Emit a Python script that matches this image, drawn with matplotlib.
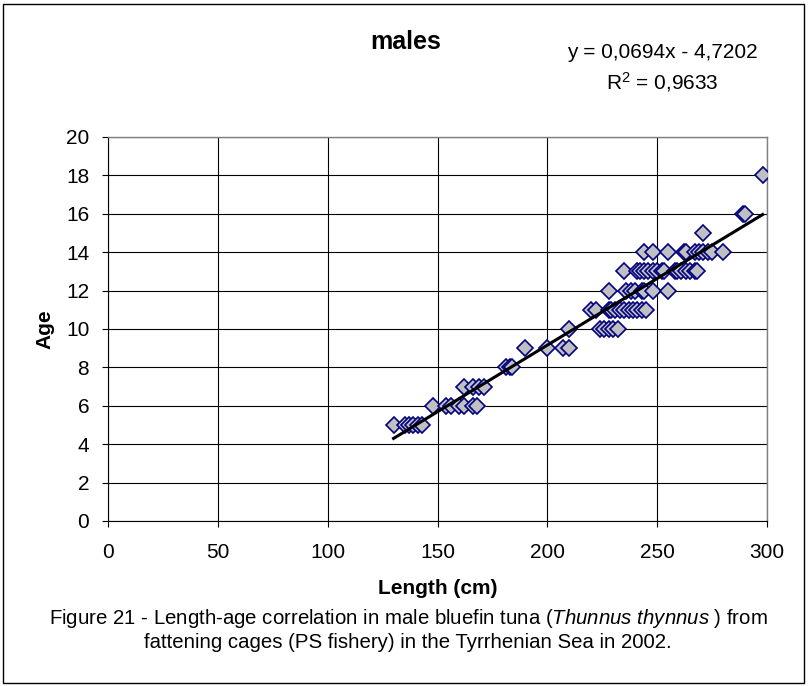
import matplotlib.pyplot as plt
from matplotlib.patches import Rectangle
import numpy as np

plt.rcParams['font.family'] = ['Liberation Sans', 'DejaVu Sans']
plt.rcParams['mathtext.fontset'] = 'custom'
plt.rcParams['mathtext.rm'] = 'Liberation Sans'
plt.rcParams['mathtext.it'] = 'Liberation Sans:italic'

# length (cm) of each fish, grouped by age read
len_age5 = [130, 135, 137, 139, 141, 143]
len_age6 = [148, 154, 156, 160, 162, 166, 168]
len_age7 = [162, 166, 169, 171]
len_age8 = [181, 183, 184]
len_age9 = [190, 200, 207, 210]
len_age10 = [210, 224, 226, 228, 230, 232]
len_age11 = [220, 222, 228, 229, 231, 233, 235, 237, 239, 241, 243, 245]
len_age12 = [228, 236, 238, 240, 243, 244, 248, 255]
len_age13 = [235, 241, 242, 244, 246, 248, 250, 252, 253, 258, 259, 261, 263, 265, 267, 268]
len_age14 = [244, 248, 255, 262, 263, 267, 269, 271, 273, 275, 280]
len_age15 = [271]
len_age16 = [289, 290]
len_age18 = [298]

groups = {5: len_age5, 6: len_age6, 7: len_age7, 8: len_age8, 9: len_age9,
          10: len_age10, 11: len_age11, 12: len_age12, 13: len_age13,
          14: len_age14, 15: len_age15, 16: len_age16, 18: len_age18}

# linear trend from the fitted equation
slope = 0.0694
intercept = -4.7202
r2 = 0.9633

x_ticks = [0, 50, 100, 150, 200, 250, 300]
y_ticks = [0, 2, 4, 6, 8, 10, 12, 14, 16, 18, 20]

length = np.concatenate([np.array(v, dtype=float) for v in groups.values()])
age = np.concatenate([np.full(len(v), k, dtype=float) for k, v in groups.items()])

fig = plt.figure(figsize=(8.08, 6.86), dpi=100)
ax = fig.add_axes([108 / 808, 1 - 521 / 686, (767 - 108) / 808, (521 - 137) / 686])

ax.plot(length, age, linestyle='none', marker='D', markersize=8,
        markerfacecolor='#c0c0c0', markeredgecolor='#000080',
        markeredgewidth=1.2, zorder=3)

xl = np.array([length.min(), length.max()])
ax.plot(xl, slope * xl + intercept, color='black', linewidth=2.2, zorder=4)

ax.set_xlim(0, 300)
ax.set_ylim(0, 20)
ax.set_xticks(x_ticks)
ax.set_yticks(y_ticks)
ax.grid(True, color='black', linewidth=0.8)
ax.set_axisbelow(True)
ax.tick_params(axis='both', labelsize=15, direction='out', length=4.5, width=0.8)
ax.tick_params(axis='x', pad=11)
ax.tick_params(axis='y', pad=9)
for side in ['left', 'bottom']:
    ax.spines[side].set_color('black')
    ax.spines[side].set_linewidth(0.8)
for side in ['top', 'right']:
    ax.spines[side].set_color('#808080')
    ax.spines[side].set_linewidth(1.0)
    ax.spines[side].set_zorder(2.5)

fig.text(438 / 808, 1 - 588 / 686, 'Length (cm)', fontsize=15, fontweight='bold',
         ha='center', va='center')
fig.text(45 / 808, 1 - 329 / 686, 'Age', fontsize=15, fontweight='bold',
         ha='center', va='center', rotation=90)

fig.text(406 / 808, 1 - 42 / 686, 'males', fontsize=18, fontweight='bold',
         ha='center', va='center')
fig.text(662 / 808, 1 - 53 / 686, 'y = 0,0694x - 4,7202', fontsize=15,
         ha='center', va='center')
fig.text(662 / 808, 1 - 82 / 686, 'R$^{2}$ = 0,9633', fontsize=15,
         ha='center', va='center')

fig.text(408 / 808, 1 - 618 / 686,
         'Figure 21 - Length-age correlation in male bluefin tuna ($\\it{Thunnus\\ thynnus}$ ) from',
         fontsize=14.7, ha='center', va='center')
fig.text(408 / 808, 1 - 643 / 686,
         'fattening cages (PS fishery) in the Tyrrhenian Sea in 2002.',
         fontsize=14.7, ha='center', va='center')

fig.patches.append(Rectangle((3 / 808, 3 / 686), 801 / 808, 679 / 686,
                             transform=fig.transFigure, fill=False,
                             edgecolor='black', linewidth=1.0))

fig.savefig('out.png', dpi=100)
